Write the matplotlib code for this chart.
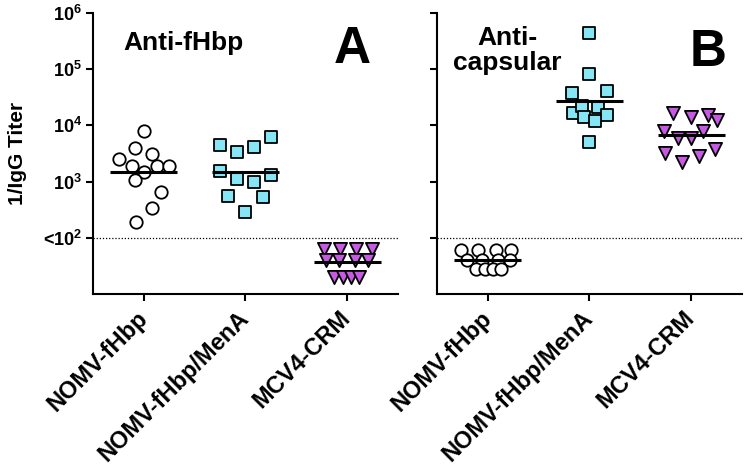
import numpy as np
import matplotlib
matplotlib.use('Agg')
import matplotlib.pyplot as plt

plt.rcParams['font.family'] = 'Liberation Sans'
plt.rcParams['font.weight'] = 'bold'
plt.rcParams['mathtext.fontset'] = 'custom'
plt.rcParams['mathtext.rm'] = 'Liberation Sans:bold'
plt.rcParams['mathtext.bf'] = 'Liberation Sans:bold'

# groups on the x axis
groups = ['NOMV-fHbp', 'NOMV-fHbp/MenA', 'MCV4-CRM']

# panel A: anti-fHbp titers (values below 10^2 are plotted at arbitrary low values)
a_fhbp = [7800, 3940, 3120, 2510, 1900, 1900, 1900, 1490, 1070, 660, 344, 188]
a_fhbp_menA = [6100, 4520, 4045, 3340, 1570, 1315, 1115, 1000, 562, 525, 291]
a_mcv4 = [62, 62, 62, 62, 41, 41, 41, 41, 20, 20, 20, 20]

# panel B: anti-capsular titers
b_fhbp = [61, 61, 61, 61, 40, 40, 40, 40, 28, 28, 28, 28]
b_fhbp_menA = [435000, 81000, 38200, 40900, 16400, 22100, 21000, 14300, 15300, 12000, 5130]
b_mcv4 = [16400, 14300, 15300, 12500, 8050, 6040, 6040, 8050, 3190, 2260, 2860, 3760]

# horizontal scatter offsets (layout only)
jit_a0 = [0.0, -0.09, 0.085, -0.24, -0.12, 0.125, 0.25, 0.0, -0.09, 0.17, 0.085, -0.08]
jit_a1 = [0.25, -0.25, 0.08, -0.085, -0.25, 0.25, -0.085, 0.08, -0.17, 0.17, 0.0]
jit_a2 = [-0.225, -0.07, 0.09, 0.245, -0.21, -0.085, 0.08, 0.2, -0.125, -0.045, 0.035, 0.12]
jit_b0 = [-0.26, -0.095, 0.08, 0.23, -0.2, -0.06, 0.1, 0.22, -0.12, -0.03, 0.05, 0.13]
jit_b1 = [0.0, 0.0, -0.17, 0.17, -0.165, -0.07, 0.08, -0.055, 0.17, 0.05, 0.0]
jit_b2 = [-0.175, 0.0, 0.17, 0.25, -0.265, -0.125, 0.0, 0.12, -0.255, -0.09, 0.08, 0.235]

cyan = '#86E6F5'
purple = '#C65AE3'
styles = [dict(marker='o', facecolor='white', s=80),
          dict(marker='s', facecolor=cyan, s=76),
          dict(marker='v', facecolor=purple, s=90)]

W, H = 747, 471
fig = plt.figure(figsize=(W / 100, H / 100), dpi=100)
axA = fig.add_axes([93 / W, 1 - 294 / H, 305 / W, 281 / H])
axB = fig.add_axes([437 / W, 1 - 294 / H, 305 / W, 281 / H])


def panel(ax, series, jits):
    for i, (vals, jit, st) in enumerate(zip(series, jits, styles)):
        vals = np.array(vals, dtype=float)
        x = i + np.array(jit)
        ax.scatter(x, vals, marker=st['marker'], s=st['s'], facecolor=st['facecolor'],
                   edgecolor='black', linewidths=1.3, zorder=3, clip_on=False)
        gm = 10 ** np.mean(np.log10(vals))  # geometric mean line
        ax.hlines(gm, i - 0.33, i + 0.33, color='black', lw=2.2, zorder=4)
    ax.axhline(100, color='black', lw=0.9, ls=(0, (1, 1.5)), zorder=1)
    ax.set_yscale('log')
    ax.set_ylim(10, 1e6)
    ax.set_xlim(-0.5, 2.5)
    ax.set_yticks([1e2, 1e3, 1e4, 1e5, 1e6])
    ax.yaxis.set_minor_locator(matplotlib.ticker.NullLocator())
    ax.set_xticks(range(3))
    ax.set_xticklabels(groups, rotation=45, ha='right', va='center',
                       rotation_mode='anchor', fontsize=17, fontweight='bold')
    ax.tick_params(axis='x', length=5, width=1.5, pad=10)
    ax.tick_params(axis='y', length=5, width=1.5, pad=3)
    for side in ['top', 'right']:
        ax.spines[side].set_visible(False)
    for side in ['left', 'bottom']:
        ax.spines[side].set_linewidth(1.5)


panel(axA, [a_fhbp, a_fhbp_menA, a_mcv4], [jit_a0, jit_a1, jit_a2])
panel(axB, [b_fhbp, b_fhbp_menA, b_mcv4], [jit_b0, jit_b1, jit_b2])

axA.set_yticklabels([r'<$\mathbf{10^{2}}$', r'$\mathbf{10^{3}}$', r'$\mathbf{10^{4}}$',
                     r'$\mathbf{10^{5}}$', r'$\mathbf{10^{6}}$'], fontsize=13)
axB.set_yticklabels([])
axA.set_ylabel('1/IgG Titer', fontsize=15, fontweight='bold', labelpad=11)

axA.text(0.1, 0.895, 'Anti-fHbp', transform=axA.transAxes, fontsize=19,
         fontweight='bold', ha='left', va='center')
axA.text(0.85, 0.87, 'A', transform=axA.transAxes, fontsize=37,
         fontweight='bold', ha='center', va='center')
axB.text(0.23, 0.865, 'Anti-\ncapsular', transform=axB.transAxes, fontsize=19,
         fontweight='bold', ha='center', va='center', linespacing=1.05)
axB.text(0.89, 0.86, 'B', transform=axB.transAxes, fontsize=37,
         fontweight='bold', ha='center', va='center')

fig.savefig('out.png', dpi=100)
